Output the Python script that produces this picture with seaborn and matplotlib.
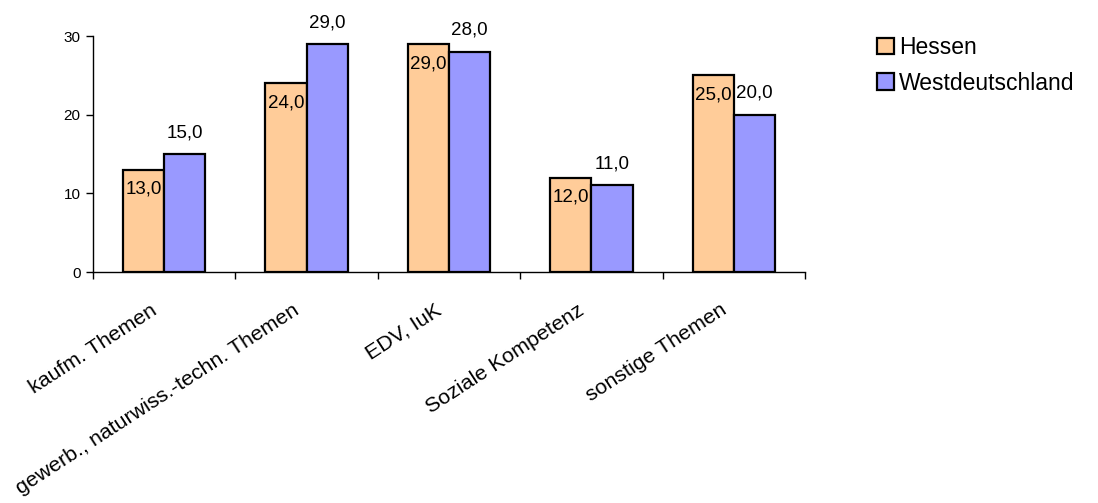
import numpy as np
import pandas as pd
import matplotlib
matplotlib.use("Agg")
import matplotlib.pyplot as plt
import matplotlib.transforms as mtransforms
import seaborn as sns
from matplotlib.patches import Patch

categories = ["kaufm. Themen", "gewerb., naturwiss.-techn. Themen", "EDV, IuK",
              "Soziale Kompetenz", "sonstige Themen"]
hessen = [13.0, 24.0, 29.0, 12.0, 25.0]
westdeutschland = [15.0, 29.0, 28.0, 11.0, 20.0]
series_names = ["Hessen", "Westdeutschland"]
colors = ["#FFCC99", "#9999FF"]
yticks = [0, 10, 20, 30]

sns.set_theme(style="ticks", rc={"text.color": "black", "axes.labelcolor": "black",
                                 "xtick.color": "black", "ytick.color": "black",
                                 "axes.edgecolor": "black"})
plt.rcParams["font.family"] = ["Liberation Sans", "DejaVu Sans"]

df = pd.DataFrame({
    "Thema": categories * 2,
    "Wert": hessen + westdeutschland,
    "Region": [series_names[0]] * len(categories) + [series_names[1]] * len(categories),
})

fig = plt.figure(figsize=(10.98, 5.03), dpi=100)
ax = fig.add_axes([93 / 1098, 1 - 272 / 503, (805 - 93) / 1098, (272 - 36) / 503])

sns.barplot(data=df, x="Thema", y="Wert", hue="Region", order=categories,
            hue_order=series_names, palette=colors, width=0.58, gap=0,
            edgecolor="black", linewidth=1.6, saturation=1, ax=ax, legend=False)

ax.set_xlim(-0.5, len(categories) - 0.5)
ax.set_ylim(0, 30)
ax.set_xlabel("")
ax.set_ylabel("")
ax.set_yticks(yticks)
ax.set_yticklabels([str(v) for v in yticks], fontsize=11)
ax.tick_params(axis="y", left=True, direction="out", length=5, width=1, pad=4)

ax.set_xticks(range(len(categories)))
ax.set_xticklabels(categories, rotation=33, ha="right", va="baseline",
                   rotation_mode="anchor", fontsize=15.4)
ax.tick_params(axis="x", which="major", bottom=True, length=0, pad=29.5)
shift = mtransforms.ScaledTranslation(-0.06, 0, fig.dpi_scale_trans)
for lbl in ax.get_xticklabels():
    lbl.set_transform(lbl.get_transform() + shift)
ax.set_xticks(np.arange(-0.5, len(categories)), minor=True)
ax.tick_params(axis="x", which="minor", bottom=True, direction="out", length=5, width=1)

for side in ["top", "right"]:
    ax.spines[side].set_visible(False)
for side in ["left", "bottom"]:
    ax.spines[side].set_linewidth(1)

# value labels: Hessen inside near the top, Westdeutschland above the bar
containers = ax.containers
for bars, vals, off in [(containers[0], hessen, -2.5), (containers[1], westdeutschland, 2.7)]:
    for b, v in zip(bars, vals):
        ax.text(b.get_x() + b.get_width() / 2, v + off, f"{v:.1f}".replace(".", ","),
                ha="center", va="center", fontsize=13.5, color="black")

handles = [Patch(facecolor=c, edgecolor="black", linewidth=1.6) for c in colors]
fig.legend(handles, series_names, loc="upper left", bbox_to_anchor=(877 / 1098, 1 - 36 / 503),
           frameon=False, fontsize=16.5, handlelength=0.75, handleheight=0.75,
           handletextpad=0.2, labelspacing=0.55, borderpad=0, borderaxespad=0)

fig.savefig("out.png", dpi=100, facecolor="white")
